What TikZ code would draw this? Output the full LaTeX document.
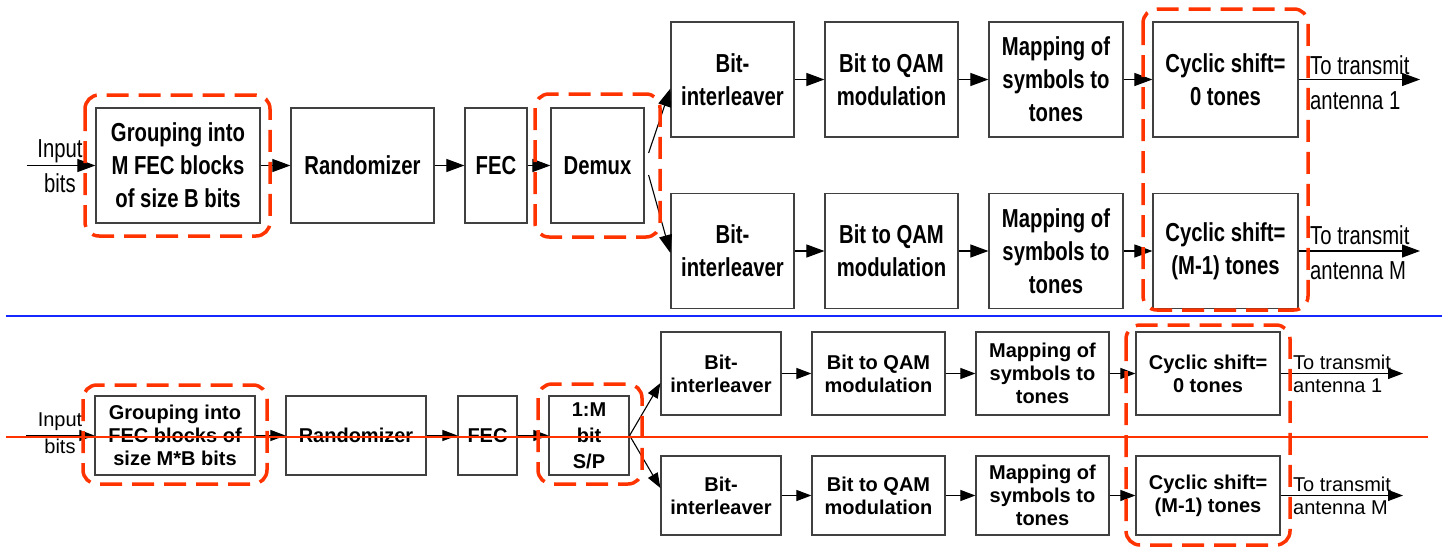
\documentclass[tikz,border=0pt]{standalone}
\usepackage{fontspec}
\setmainfont{Liberation Sans}
\newfontfamily\topf{Liberation Sans}[FakeStretch=0.78]
\usetikzlibrary{arrows.meta,calc}
\definecolor{rdash}{RGB}{255,51,0}
\definecolor{bline}{RGB}{20,40,255}
\begin{document}
\begin{tikzpicture}[x=1pt,y=-1pt,
  tbox/.style={draw=black!75, line width=1.2pt, align=center, inner sep=0pt,
    minimum height=115pt, font=\topf\bfseries\fontsize{26}{33}\selectfont},
  bbox/.style={draw=black!75, line width=1.2pt, align=center, inner sep=0pt,
    minimum height=79pt, font=\bfseries\fontsize{20}{23}\selectfont},
  tlab/.style={inner sep=0pt, font=\topf\fontsize{26}{35}\selectfont},
  blab/.style={inner sep=0pt, font=\fontsize{20}{23}\selectfont},
  tarr/.style={-{Triangle[length=18pt,width=13pt]}, line width=1.1pt},
  barr/.style={-{Triangle[length=15pt,width=11pt]}, line width=1.1pt},
  reddash/.style={draw=rdash, line width=3.5pt, dash pattern=on 22pt off 10pt, rounded corners=14pt}
]
\useasboundingbox (0,0) rectangle (1442,557);

% ---------- top diagram ----------
\node[tbox, minimum width=164pt] (g1) at (178,165.5) {Grouping into\\M FEC blocks\\of size B bits};
\node[tbox, minimum width=143pt] (r1) at (362.5,165.5) {Randomizer};
\node[tbox, minimum width=62pt] (f1) at (496,165.5) {FEC};
\node[tbox, minimum width=93pt] (d1) at (597.5,165.5) {Demux};
\node[tbox, minimum width=123pt] (bi1) at (732.5,79.5) {Bit-\\interleaver};
\node[tbox, minimum width=133pt] (q1) at (891.5,79.5) {Bit to QAM\\modulation};
\node[tbox, minimum width=134pt] (m1) at (1056,79.5) {Mapping of\\symbols to\\tones};
\node[tbox, minimum width=145pt] (c1) at (1225.5,79.5) {Cyclic shift=\\0 tones};
\node[tbox, minimum width=123pt] (bi2) at (732.5,251) {Bit-\\interleaver};
\node[tbox, minimum width=133pt] (q2) at (891.5,251) {Bit to QAM\\modulation};
\node[tbox, minimum width=134pt] (m2) at (1056,251) {Mapping of\\symbols to\\tones};
\node[tbox, minimum width=145pt] (c2) at (1225.5,251) {Cyclic shift=\\(M-1) tones};

\node[tlab, align=center] (in1t) at (60,166) {Input\\bits};
\node[tlab, align=left, anchor=west] (o1t) at (1310,82.5) {To transmit\\antenna 1};
\node[tlab, align=left, anchor=west] (o2t) at (1310,252.5) {To transmit\\antenna M};

\coordinate (in1) at (27,165.5);
\coordinate (o1) at (1420,79.5);
\coordinate (o2) at (1420,251);

\draw[tarr] (in1) -- (g1);
\draw[tarr] (g1) -- (r1);
\draw[tarr] (r1) -- (f1);
\draw[tarr] (f1) -- (d1);
\draw[tarr] ($(d1.east)+(4,-12.5)$) -- ($(bi1.west)+(0,9)$);
\draw[tarr] ($(d1.east)+(4,9.5)$) -- ($(bi2.west)+(0,2)$);
\draw[tarr] (bi1) -- (q1);
\draw[tarr] (q1) -- (m1);
\draw[tarr] (m1) -- (c1);
\draw[tarr] (c1) -- (o1);
\draw[tarr] (bi2) -- (q2);
\draw[tarr] (q2) -- (m2);
\draw[tarr] (m2) -- (c2);
\draw[tarr] (c2) -- (o2);

\draw[reddash] (85,95) rectangle (270,236);
\draw[reddash] (535,94) rectangle (660,237);
\draw[reddash] (1143,9) rectangle (1308,310);

% separator
\draw[bline, line width=2.5pt] (6,316) -- (1442,316);

% ---------- bottom diagram ----------
\node[bbox, minimum width=160pt] (g3) at (175,435.5) {Grouping into\\FEC blocks of\\size M*B bits};
\node[bbox, minimum width=140pt] (r3) at (356,435.5) {Randomizer};
\node[bbox, minimum width=59pt] (f3) at (487.5,435.5) {FEC};
\node[bbox, minimum width=80pt, font=\bfseries\fontsize{20}{26}\selectfont] (s3) at (589,435.5) {1:M\\bit\\S/P};
\node[bbox, minimum width=120pt, minimum height=83pt] (bi3) at (721,373.5) {Bit-\\interleaver};
\node[bbox, minimum width=133pt, minimum height=83pt] (q3) at (878.5,373.5) {Bit to QAM\\modulation};
\node[bbox, minimum width=133pt, minimum height=83pt] (m3) at (1042.5,373.5) {Mapping of\\symbols to\\tones};
\node[bbox, minimum width=144pt, minimum height=83pt] (c3) at (1208,373.5) {Cyclic shift=\\0 tones};
\node[bbox, minimum width=120pt] (bi4) at (721,495.5) {Bit-\\interleaver};
\node[bbox, minimum width=133pt] (q4) at (878.5,495.5) {Bit to QAM\\modulation};
\node[bbox, minimum width=133pt] (m4) at (1042.5,495.5) {Mapping of\\symbols to\\tones};
\node[bbox, minimum width=144pt] (c4) at (1208,495.5) {Cyclic shift=\\(M-1) tones};

\node[blab, align=center, font=\fontsize{20}{27}\selectfont] (in3t) at (60,433.5) {Input\\bits};
\node[blab, align=left, anchor=west] (o3t) at (1293,373.5) {To transmit\\antenna 1};
\node[blab, align=left, anchor=west] (o4t) at (1293,495.5) {To transmit\\antenna M};

\coordinate (in3) at (26,435.5);
\coordinate (o3) at (1403,373.5);
\coordinate (o4) at (1403,495.5);

\draw[barr] (in3) -- (g3);
\draw[barr] (g3) -- (r3);
\draw[barr] (r3) -- (f3);
\draw[barr] (f3) -- (s3);
\draw[barr] (s3.east) -- ($(bi3.west)+(0,9.5)$);
\draw[barr] (s3.east) -- ($(bi4.west)+(0,-7.5)$);
\draw[barr] (bi3) -- (q3);
\draw[barr] (q3) -- (m3);
\draw[barr] (m3) -- (c3);
\draw[barr] (c3) -- (o3);
\draw[barr] (bi4) -- (q4);
\draw[barr] (q4) -- (m4);
\draw[barr] (m4) -- (c4);
\draw[barr] (c4) -- (o4);

\draw[reddash] (83,385) rectangle (267,484);
\draw[reddash] (538,384) rectangle (642,484);
\draw[reddash] (1126,325) rectangle (1290,545);

\draw[draw=rdash, line width=2pt] (6,437) -- (1428,437);
\end{tikzpicture}
\end{document}
